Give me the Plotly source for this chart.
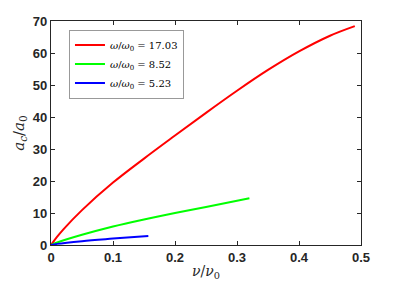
import plotly.graph_objects as go

# data
red_x = [0.0, 0.01, 0.02, 0.05, 0.10, 0.15, 0.20, 0.25, 0.30, 0.35, 0.40, 0.45, 0.49]
red_y = [0.0, 2.6, 4.9, 10.9, 19.5, 27.0, 34.2, 41.3, 48.2, 54.7, 60.5, 65.4, 68.4]
green_x = [0.0, 0.01, 0.05, 0.10, 0.15, 0.20, 0.25, 0.32]
green_y = [0.0, 0.8, 3.2, 5.8, 8.0, 10.0, 11.9, 14.6]
blue_x = [0.0, 0.01, 0.05, 0.10, 0.157]
blue_y = [0.0, 0.35, 1.2, 2.0, 2.85]
labels = ["17.03", "8.52", "5.23"]
colors = ["#ff0000", "#00ff00", "#0000ff"]
x_ticks = [0, 0.1, 0.2, 0.3, 0.4, 0.5]
y_ticks = [0, 10, 20, 30, 40, 50, 60, 70]

fig = go.Figure()
for xs, ys, lab, col in zip([red_x, green_x, blue_x], [red_y, green_y, blue_y], labels, colors):
    fig.add_trace(go.Scatter(
        x=xs, y=ys, mode="lines", line=dict(color=col, width=2, shape="spline", smoothing=1.0),
        name="<i>ω</i>/<i>ω</i><sub>0</sub> = " + lab,
    ))

axis_common = dict(
    showgrid=False, zeroline=False, showline=True, linecolor="#262626", linewidth=1.3,
    mirror="ticks", ticks="inside", ticklen=4, tickcolor="#262626", tickwidth=1.3,
    automargin=False,
    tickfont=dict(family="Liberation Sans", size=13, color="#262626", weight="bold"),
)
fig.update_xaxes(range=[0, 0.5], tickvals=x_ticks, ticktext=[str(v) for v in x_ticks],
                 title=dict(text="<i>ν</i>/<i>ν</i><sub>0</sub>", standoff=2,
                            font=dict(family="DejaVu Serif", size=14, color="#262626")),
                 **axis_common)
fig.update_yaxes(range=[0, 70], tickvals=y_ticks,
                 title=dict(text="<i>a<sub>c</sub></i>/<i>a</i><sub>0</sub>", standoff=4,
                            font=dict(family="DejaVu Serif", size=15, color="#262626")),
                 **axis_common)
fig.update_layout(
    width=399, height=286,
    margin=dict(l=51, r=38, t=21, b=41, autoexpand=False),
    plot_bgcolor="white", paper_bgcolor="white",
    legend=dict(x=0.058, y=0.962, xanchor="left", yanchor="top",
                bgcolor="white", bordercolor="#999999", borderwidth=1,
                font=dict(family="DejaVu Serif", size=10, color="#000000"),
                tracegroupgap=0, itemwidth=30),
    showlegend=True,
)
fig.write_html("out.html", config={"displayModeBar": False},
               post_script="document.body.style.margin='0';")
